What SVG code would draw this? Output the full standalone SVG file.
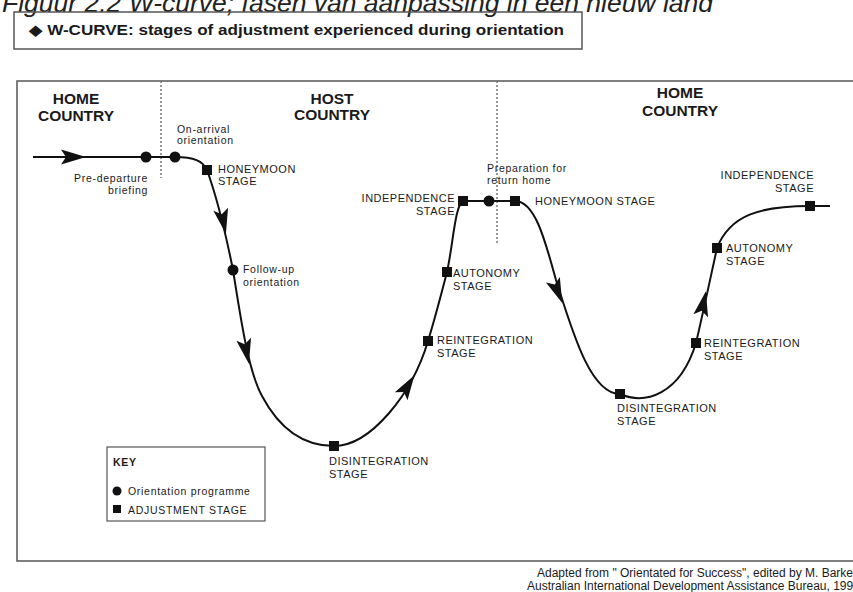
<svg xmlns="http://www.w3.org/2000/svg" xmlns:xlink="http://www.w3.org/1999/xlink" width="853" height="592" viewBox="0 0 853 592">
<style>
text{font-family:"Liberation Sans",Arial,sans-serif;fill:#1a1a1a}
.cap{font-weight:bold;font-size:15.5px;text-anchor:middle}
.lbl{font-size:11px;letter-spacing:0.5px}
.sm{font-size:10.5px;letter-spacing:0.7px}
.frame{fill:none;stroke:#555;stroke-width:1.5}
.div{stroke:#777;stroke-width:1.5;stroke-dasharray:2 2}
.curve{fill:none;stroke:#111;stroke-width:2}
.dot{fill:#111}
</style>
<defs>
<path id="arr" d="M14 0 L-11 -7.5 L-6 0 L-11 7.5 Z" fill="#111"/>
<rect id="sq" x="-5" y="-5" width="10" height="10" fill="#111"/>
</defs>
<rect width="853" height="592" fill="#fff"/>
<text x="2" y="12" style="font-style:italic;font-size:26.5px;fill:#222">Figuur 2.2 W-curve; fasen van aanpassing in een nieuw land</text>
<g id="titlebox">
<rect x="14" y="12" width="568" height="37" class="frame"/>
<text x="29" y="35" textLength="535" lengthAdjust="spacingAndGlyphs" style="font-weight:bold;font-size:14px">◆ W-CURVE: stages of adjustment experienced during orientation</text>
</g>
<g id="frame">
<path d="M853 81 L17 81 L17 561 L853 561" class="frame"/>
<line x1="161" y1="81" x2="161" y2="178" class="div"/>
<line x1="497" y1="81" x2="497" y2="245" class="div"/>
<text class="cap" x="76" y="104">HOME</text>
<text class="cap" x="76" y="121">COUNTRY</text>
<text class="cap" x="332" y="104">HOST</text>
<text class="cap" x="332" y="120">COUNTRY</text>
<text class="cap" x="680" y="98">HOME</text>
<text class="cap" x="680" y="116">COUNTRY</text>
</g>
<g id="connectors">
<path class="curve" d="M33 157 L175 157 C194 157 203 161 207 170 C216 195 226 235 233 270 C241 320 248 370 262 396 C280 430 305 446 334 446 C370 446 412 395 428 341 C436 315 441 295 447 272 C453 245 455 205 463 201 L515 201 C535 201 545 240 556 280 C572 330 590 394 620 394 C645 405 680 395 696 343 C703 313 710 280 717 248 C730 215 760 206 810 206 L830 206"/>
<use href="#arr" transform="translate(72 157)"/>
<use href="#arr" transform="translate(223 220) rotate(78)"/>
<use href="#arr" transform="translate(246 350) rotate(78)"/>
<use href="#arr" transform="translate(407 387) rotate(-58)"/>
<use href="#arr" transform="translate(557 290) rotate(68)"/>
<use href="#arr" transform="translate(703 305) rotate(-78)"/>
</g>
<g id="predeparture"><circle cx="146" cy="157" r="5.5" class="dot"/><text class="sm" x="148" y="182" text-anchor="end">Pre-departure</text><text class="sm" x="148" y="194" text-anchor="end">briefing</text></g>
<g id="onarrival"><circle cx="175" cy="157" r="5.5" class="dot"/><text class="sm" x="177" y="133">On-arrival</text><text class="sm" x="177" y="144">orientation</text></g>
<g id="honeymoon1"><use href="#sq" x="207" y="170"/><text class="lbl" x="218" y="173">HONEYMOON</text><text class="lbl" x="218" y="185">STAGE</text></g>
<g id="followup"><circle cx="233" cy="270" r="5.5" class="dot"/><text class="sm" x="243" y="273">Follow-up</text><text class="sm" x="243" y="286">orientation</text></g>
<g id="disintegration1"><use href="#sq" x="334" y="446"/><text class="lbl" x="329" y="465">DISINTEGRATION</text><text class="lbl" x="329" y="478">STAGE</text></g>
<g id="reintegration1"><use href="#sq" x="428" y="341"/><text class="lbl" x="437" y="344">REINTEGRATION</text><text class="lbl" x="437" y="357">STAGE</text></g>
<g id="autonomy1"><use href="#sq" x="447" y="272"/><text class="lbl" x="453" y="277">AUTONOMY</text><text class="lbl" x="453" y="290">STAGE</text></g>
<g id="independence1"><use href="#sq" x="463" y="201"/><text class="lbl" x="455" y="202" text-anchor="end">INDEPENDENCE</text><text class="lbl" x="455" y="215" text-anchor="end">STAGE</text></g>
<g id="preparation"><circle cx="489" cy="201" r="5.5" class="dot"/><text class="sm" x="487" y="172">Preparation for</text><text class="sm" x="487" y="184">return home</text></g>
<g id="honeymoon2"><use href="#sq" x="515" y="201"/><text class="lbl" x="535" y="205">HONEYMOON STAGE</text></g>
<g id="disintegration2"><use href="#sq" x="620" y="394"/><text class="lbl" x="617" y="412">DISINTEGRATION</text><text class="lbl" x="617" y="425">STAGE</text></g>
<g id="reintegration2"><use href="#sq" x="696" y="343"/><text class="lbl" x="704" y="347">REINTEGRATION</text><text class="lbl" x="704" y="360">STAGE</text></g>
<g id="autonomy2"><use href="#sq" x="717" y="248"/><text class="lbl" x="726" y="252">AUTONOMY</text><text class="lbl" x="726" y="265">STAGE</text></g>
<g id="independence2"><use href="#sq" x="810" y="206"/><text class="lbl" x="814" y="179" text-anchor="end">INDEPENDENCE</text><text class="lbl" x="814" y="192" text-anchor="end">STAGE</text></g>
<g id="key">
<rect x="107" y="447" width="158" height="74" fill="#fff" stroke="#555" stroke-width="1.2"/>
<text class="sm" x="113" y="466" style="font-weight:bold">KEY</text>
<circle cx="117" cy="491" r="4.5" class="dot"/>
<text class="sm" x="128" y="495">Orientation programme</text>
<rect x="113" y="505" width="8" height="8" class="dot"/>
<text class="sm" x="128" y="514">ADJUSTMENT STAGE</text>
</g>
<g id="footer">
<text x="537" y="577" style="font-size:12px">Adapted from " Orientated for Success", edited by M. Barker</text>
<text x="527" y="590" style="font-size:12px">Australian International Development Assistance Bureau, 1990</text>
</g>
</svg>
